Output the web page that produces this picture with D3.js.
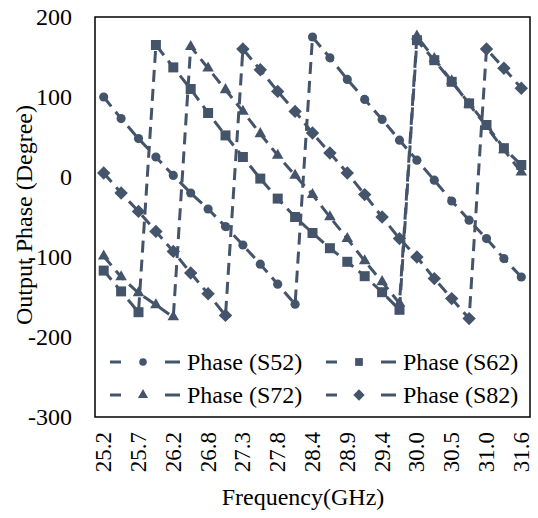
<!DOCTYPE html>
<html>
<head>
<meta charset="utf-8">
<script src="https://cdn.jsdelivr.net/npm/d3@7"></script>
<style>
  html, body { margin: 0; padding: 0; background: #fff; }
  svg text { font-family: "Liberation Serif", "DejaVu Serif", serif; fill: #000; }
</style>
</head>
<body>
<div id="chart"></div>
<script>
// frequency points (GHz), labels shown on every second one
const freqLabels = ["25.2", "", "25.7", "", "26.2", "", "26.8", "", "27.3", "", "27.8", "", "28.4",
                    "", "28.9", "", "29.4", "", "30.0", "", "30.5", "", "31.0", "", "31.6"];

const phaseS52 = [100, 73, 48, 25, 2, -20, -40, -62, -85, -109, -134, -159,
                  175, 149, 122, 97, 72, 46, 21, -4, -30, -54, -77, -102, -125];
const phaseS62 = [-117, -143, -169, 165, 137, 110, 80, 52, 25, -2, -27, -50,
                  -70, -89, -106, -124, -144, -166, 171, 146, 119, 92, 65, 36, 15];
const phaseS72 = [-99, -125, -145, -160, -175, 163, 136, 109, 82, 54, 27, 2,
                  -22, -50, -77, -105, -131, -158, 176, 148, 120, 91, 63, 34, 6];
const phaseS82 = [5, -20, -43, -68, -93, -120, -146, -173, 160, 134, 107, 82,
                  55, 30, 5, -22, -50, -77, -100, -127, -152, -177, 160, 136, 111];

const seriesNames = ["Phase (S52)", "Phase (S62)", "Phase (S72)", "Phase (S82)"];
const yTicks = [200, 100, 0, -100, -200, -300];

const width = 538, height = 518;
const color = "#44546A";
const plot = { left: 95, right: 530, top: 17, bottom: 417 };

const svg = d3.select("#chart").append("svg")
    .attr("width", width)
    .attr("height", height);

const idx = d3.range(freqLabels.length);
const x = d3.scaleBand()
    .domain(idx)
    .range([plot.left, plot.right]);
const y = d3.scaleLinear()
    .domain([-300, 200])
    .range([plot.bottom, plot.top]);

// plot frame
svg.append("rect")
    .attr("x", plot.left)
    .attr("y", plot.top)
    .attr("width", plot.right - plot.left)
    .attr("height", plot.bottom - plot.top)
    .attr("fill", "none")
    .attr("stroke", "#000")
    .attr("stroke-width", 1.5);

// y tick labels
svg.selectAll(".ytick")
    .data(yTicks)
    .enter()
    .append("text")
    .attr("class", "ytick")
    .attr("x", 72)
    .attr("y", d => y(d))
    .attr("text-anchor", "end")
    .attr("dominant-baseline", "central")
    .attr("font-size", "24px")
    .text(d => d);

// x tick labels (rotated)
svg.selectAll(".xtick")
    .data(idx.filter(i => freqLabels[i] !== ""))
    .enter()
    .append("text")
    .attr("class", "xtick")
    .attr("transform", i => `translate(${x(i) + x.bandwidth() / 2},432) rotate(-90)`)
    .attr("text-anchor", "end")
    .attr("dominant-baseline", "central")
    .attr("font-size", "23px")
    .text(i => freqLabels[i]);

// axis titles
svg.append("text")
    .attr("x", 303)
    .attr("y", 497)
    .attr("text-anchor", "middle")
    .attr("dominant-baseline", "central")
    .attr("font-size", "24px")
    .text("Frequency(GHz)");

svg.append("text")
    .attr("transform", "translate(24,215) rotate(-90)")
    .attr("text-anchor", "middle")
    .attr("dominant-baseline", "central")
    .attr("font-size", "24px")
    .text("Output Phase (Degree)");

// series
const diamond = d3.symbol().type(d3.symbolSquare).size(90);
const symbols = [
    d3.symbol().type(d3.symbolCircle).size(66),
    d3.symbol().type(d3.symbolSquare).size(100),
    d3.symbol().type(d3.symbolTriangle).size(58),
    diamond
];
const allSeries = [phaseS52, phaseS62, phaseS72, phaseS82];

const line = d3.line()
    .x((d, i) => x(i) + x.bandwidth() / 2)
    .y(d => y(d));

allSeries.forEach((vals, s) => {
    const g = svg.append("g");
    g.append("path")
        .datum(vals)
        .attr("d", line)
        .attr("fill", "none")
        .attr("stroke", color)
        .attr("stroke-width", 3)
        .attr("stroke-dasharray", "12,7");
    g.selectAll("path.mk")
        .data(vals)
        .enter()
        .append("path")
        .attr("class", "mk")
        .attr("d", symbols[s])
        .attr("fill", color)
        .attr("transform", (d, i) => `translate(${x(i) + x.bandwidth() / 2},${y(d)})` + (s === 3 ? " rotate(45)" : ""));
});

// legend
const legendPos = [[110, 362], [326, 362], [110, 395], [326, 395]];
const legendSymbols = [
    d3.symbol().type(d3.symbolCircle).size(45),
    d3.symbol().type(d3.symbolSquare).size(60),
    d3.symbol().type(d3.symbolTriangle).size(45),
    d3.symbol().type(d3.symbolSquare).size(64)
];
seriesNames.forEach((name, s) => {
    const [lx, ly] = legendPos[s];
    const g = svg.append("g").attr("transform", `translate(${lx},${ly})`);
    g.append("line").attr("x1", 0).attr("x2", 11).attr("y1", 0).attr("y2", 0)
        .attr("stroke", color).attr("stroke-width", 3);
    g.append("line").attr("x1", 55).attr("x2", 70).attr("y1", 0).attr("y2", 0)
        .attr("stroke", color).attr("stroke-width", 3);
    g.append("path")
        .attr("d", legendSymbols[s])
        .attr("fill", color)
        .attr("transform", "translate(33,0)" + (s === 3 ? " rotate(45)" : ""));
    g.append("text")
        .attr("x", 77)
        .attr("y", 0)
        .attr("dominant-baseline", "central")
        .attr("font-size", "24px")
        .text(name);
});
</script>
</body>
</html>
